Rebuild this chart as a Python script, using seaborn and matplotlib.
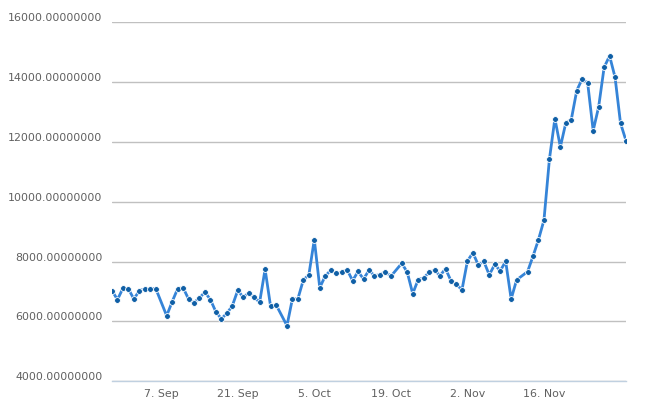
import pandas as pd
import numpy as np
import matplotlib.pyplot as plt
import matplotlib.transforms as mtransforms
import seaborn as sns

# ==========================================
# Data
# ==========================================

start_date = "2020-08-29"
end_date = "2020-12-01"
missing_days = ["2020-09-07", "2020-09-29", "2020-10-20", "2020-11-12"]

values = [
    7030, 6730, 7110, 7090, 6750, 7030, 7090, 7100, 7100, 6190,
    6660, 7090, 7130, 6750, 6630, 6790, 6980, 6730, 6320, 6090,
    6270, 6520, 7040, 6810, 6950, 6810, 6640, 7745, 6510, 6560,
    5860, 6760, 6760, 7390, 7555, 8735, 7130, 7520, 7710, 7610,
    7645, 7730, 7365, 7670, 7420, 7710, 7530, 7565, 7665, 7510,
    7945, 7645, 6930, 7400, 7455, 7645, 7710, 7530, 7765, 7355,
    7245, 7050, 8015, 8300, 7880, 8010, 7555, 7910, 7690, 8010,
    6750, 7390, 7665, 8180, 8735, 9385, 11425, 12780, 11835, 12640,
    12750, 13720, 14110, 13965, 12380, 13170, 14490, 14880, 14165, 12630,
    12045,
]

tick_dates = ["2020-09-07", "2020-09-21", "2020-10-05",
              "2020-10-19", "2020-11-02", "2020-11-16"]
tick_labels = ["7. Sep", "21. Sep", "5. Oct", "19. Oct", "2. Nov", "16. Nov"]

y_ticks = [4000, 6000, 8000, 10000, 12000, 14000, 16000]

dates = pd.date_range(start_date, end_date)
dates = dates[~dates.isin(pd.to_datetime(missing_days))]

df = pd.DataFrame({"date": dates, "value": values})

# ==========================================
# Plot
# ==========================================

sns.set_style("white")
plt.rcParams["font.family"] = ["DejaVu Sans"]

fig = plt.figure(figsize=(6.47, 4.14), dpi=100)
ax = fig.add_axes([0.1731, 0.0766, 0.7944, 0.8671])

sns.lineplot(
    data=df,
    x="date",
    y="value",
    ax=ax,
    color="#3584d8",
    linewidth=2,
    marker="o",
    markersize=4.2,
    markerfacecolor="#0f5fa6",
    markeredgecolor="white",
    markeredgewidth=0.6,
    zorder=3,
)

ax.set_xlim(df["date"].iloc[0], df["date"].iloc[-1])
ax.set_ylim(4000, 16000)

ax.set_yticks(y_ticks)
ax.set_yticklabels([f"{v:.8f}" for v in y_ticks])
ax.grid(axis="y", color="#c0c0c0", linewidth=1)
ax.grid(axis="x", visible=False)

ax.set_xticks(pd.to_datetime(tick_dates))
ax.set_xticklabels(tick_labels)

ax.set_xlabel("")
ax.set_ylabel("")

for side in ["left", "right", "top"]:
    ax.spines[side].set_visible(False)
ax.spines["bottom"].set_color("#c0d0e0")
ax.spines["bottom"].set_linewidth(1)
ax.spines["bottom"].set_zorder(4)

ax.tick_params(axis="y", length=0, pad=7, labelsize=7.9, labelcolor="#606060")
ax.tick_params(axis="x", direction="out", length=4, width=1, color="#c0d0e0",
               pad=1, labelsize=7.9, labelcolor="#606060")

# y labels sit a little above their grid line
offset = mtransforms.ScaledTranslation(0, 6 / 100, fig.dpi_scale_trans)
for label in ax.get_yticklabels():
    label.set_transform(label.get_transform() + offset)

plt.savefig("out.png", dpi=100)
